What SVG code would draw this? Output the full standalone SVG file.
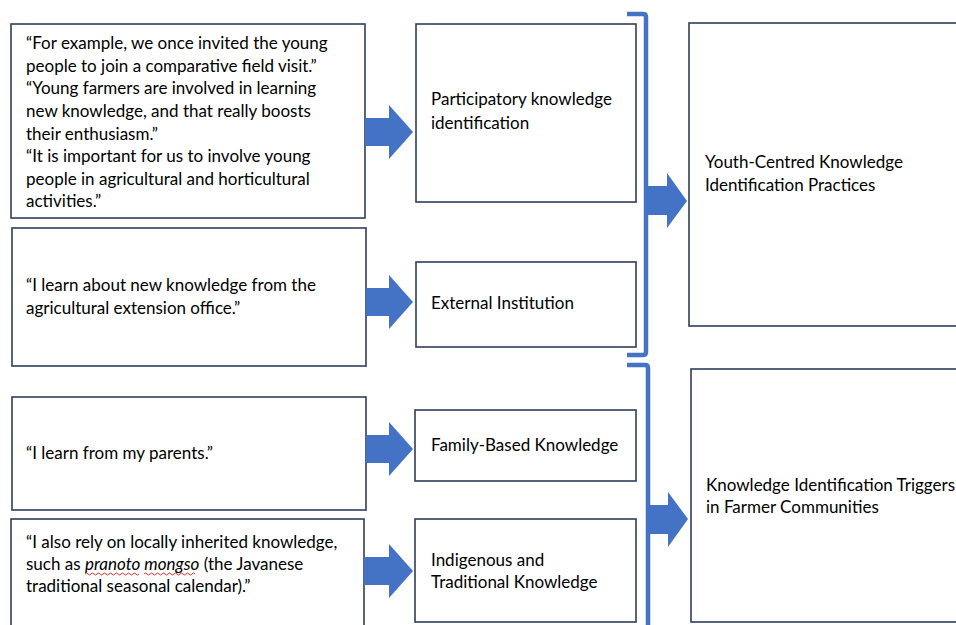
<svg xmlns="http://www.w3.org/2000/svg" width="956" height="625" viewBox="0 0 956 625">
  <style>
    .box { fill: #ffffff; stroke: #2f3d5c; stroke-width: 1.6; }
    .t { font-family: Lato, "Open Sans", sans-serif; font-size: 17px; fill: #000000; }
    .arrow { fill: #4472c4; }
    .brace { fill: none; stroke: #4472c4; stroke-width: 4.5; stroke-linejoin: round; }
    .squiggle { fill: none; stroke: #e0312c; stroke-width: 1; }
  </style>
  <rect width="956" height="625" fill="#ffffff"/>

  <!-- quote boxes -->
  <g id="quote-participatory">
    <rect class="box" x="11" y="24" width="354" height="194"/>
    <text class="t" x="26" y="49">“For example, we once invited the young</text>
    <text class="t" x="26" y="72">people to join a comparative field visit.”</text>
    <text class="t" x="26" y="94">“Young farmers are involved in learning</text>
    <text class="t" x="26" y="117">new knowledge, and that really boosts</text>
    <text class="t" x="26" y="140">their enthusiasm.”</text>
    <text class="t" x="26" y="162">“It is important for us to involve young</text>
    <text class="t" x="26" y="185">people in agricultural and horticultural</text>
    <text class="t" x="26" y="207">activities.”</text>
  </g>
  <g id="quote-external">
    <rect class="box" x="12" y="228" width="354" height="138"/>
    <text class="t" x="26" y="291">“I learn about new knowledge from the</text>
    <text class="t" x="26" y="314">agricultural extension office.”</text>
  </g>
  <g id="quote-family">
    <rect class="box" x="12" y="397" width="354" height="113"/>
    <text class="t" x="26" y="459">“I learn from my parents.”</text>
  </g>
  <g id="quote-indigenous">
    <rect class="box" x="11" y="519" width="353" height="115"/>
    <text class="t" x="26" y="548">“I also rely on locally inherited knowledge,</text>
    <text class="t" x="26" y="570">such as <tspan font-style="italic">pranoto mongso</tspan> (the Javanese</text>
    <text class="t" x="26" y="592">traditional seasonal calendar).”</text>
    <!-- spell-check underlines under the italic term -->
    <path class="squiggle" d="M85 574 q1.5 -2 3 0 t3 0 t3 0 t3 0 t3 0 t3 0 t3 0 t3 0 t3 0 t3 0 t3 0 t3 0 t3 0 t3 0 t3 0 t3 0 t3 0 t3 0"/>
    <path class="squiggle" d="M144 574 q1.5 -2 3 0 t3 0 t3 0 t3 0 t3 0 t3 0 t3 0 t3 0 t3 0 t3 0 t3 0 t3 0 t3 0 t3 0 t3 0 t3 0 t3 0"/>
  </g>

  <!-- category boxes -->
  <g id="participatory">
    <rect class="box" x="416" y="24" width="220" height="178"/>
    <text class="t" x="431" y="105">Participatory knowledge</text>
    <text class="t" x="431" y="129">identification</text>
  </g>
  <g id="external">
    <rect class="box" x="416" y="262" width="220" height="85"/>
    <text class="t" x="431" y="309">External Institution</text>
  </g>
  <g id="family">
    <rect class="box" x="415" y="410" width="221" height="71"/>
    <text class="t" x="431" y="451">Family-Based Knowledge</text>
  </g>
  <g id="indigenous">
    <rect class="box" x="415" y="519" width="221" height="103"/>
    <text class="t" x="431" y="566">Indigenous and</text>
    <text class="t" x="431" y="588">Traditional Knowledge</text>
  </g>

  <!-- theme boxes -->
  <g id="youth-centred">
    <rect class="box" x="689" y="23" width="280" height="303"/>
    <text class="t" x="705" y="168">Youth-Centred Knowledge</text>
    <text class="t" x="705" y="191">Identification Practices</text>
  </g>
  <g id="triggers">
    <rect class="box" x="691" y="369" width="280" height="253"/>
    <text class="t" x="706" y="491">Knowledge Identification Triggers</text>
    <text class="t" x="706" y="513">in Farmer Communities</text>
  </g>

  <!-- connectors: block arrows and grouping braces -->
  <g id="connectors">
    <path class="arrow" d="M365 118 H389 V105 L413 132 L389 159 V146 H365 Z"/>
    <path class="arrow" d="M366 288 H389 V275 L413 302 L389 329 V316 H366 Z"/>
    <path class="arrow" d="M366 435 H389 V422 L413 449 L389 476 V463 H366 Z"/>
    <path class="arrow" d="M364 557 H389 V544 L413 571 L389 598 V585 H364 Z"/>

    <path class="brace" d="M627 14 H643 Q646 14 646 17 V352 Q646 355 643 355 H627"/>
    <path class="brace" d="M627 365 H645 Q648 365 648 368 V630"/>

    <path class="arrow" d="M646 186 H667 V173 L687 201 L667 228 V215 H646 Z"/>
    <path class="arrow" d="M648 505 H668 V492 L688 519 L668 547 V534 H648 Z"/>
  </g>
</svg>
